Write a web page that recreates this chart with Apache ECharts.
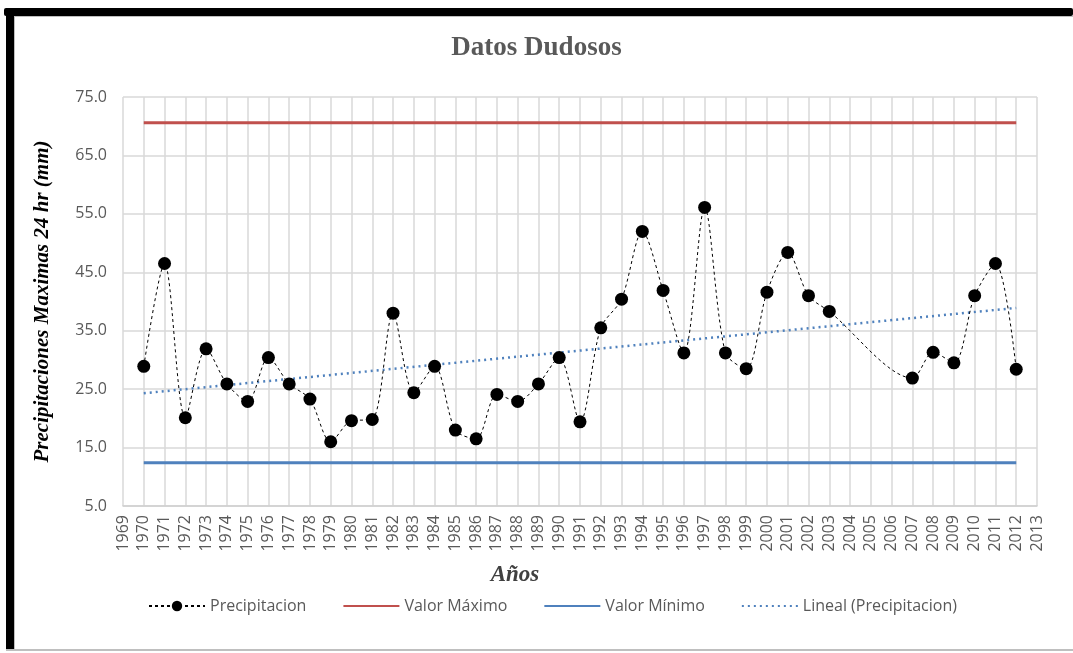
<!DOCTYPE html>
<html>
<head>
<meta charset="utf-8">
<script src="https://cdn.jsdelivr.net/npm/echarts@6/dist/echarts.min.js"></script>
<style>
  html, body { margin: 0; padding: 0; background: #fff; }
  #chart { width: 1073px; height: 653px; }
</style>
</head>
<body>
<div id="chart"></div>
<script>
// años con dato (faltan 2004-2006)
const years = [1970, 1971, 1972, 1973, 1974, 1975, 1976, 1977, 1978, 1979,
  1980, 1981, 1982, 1983, 1984, 1985, 1986, 1987, 1988, 1989,
  1990, 1991, 1992, 1993, 1994, 1995, 1996, 1997, 1998, 1999,
  2000, 2001, 2002, 2003, 2007, 2008, 2009, 2010, 2011, 2012];
const precipitacion = [28.9, 46.5, 20.1, 31.9, 25.9, 22.9, 30.4, 25.9, 23.3, 16.0,
  19.6, 19.8, 38.0, 24.4, 28.9, 18.0, 16.5, 24.1, 22.9, 25.9,
  30.4, 19.4, 35.5, 40.4, 52.0, 41.9, 31.2, 56.1, 31.2, 28.5,
  41.6, 48.4, 41.0, 38.3, 26.9, 31.3, 29.5, 41.0, 46.5, 28.4];
const limitYears = [1970, 2012];
const valorMaximo = [70.6, 70.6];
const valorMinimo = [12.4, 12.4];
const linealPrecip = [24.3, 38.9];

const xMin = 1969, xMax = 2013;
const yTicks = { min: 5, max: 75, interval: 10 };

const pairs = (xs, ys) => xs.map((x, i) => [x, ys[i]]);

const chart = echarts.init(document.getElementById("chart"));
const option = {
  backgroundColor: "#fff",
  animation: false,
  title: {
    text: "Datos Dudosos",
    left: "center",
    top: 30,
    textStyle: {
      fontFamily: "Liberation Serif",
      fontWeight: "bold",
      fontSize: 27,
      color: "#595959",
    },
  },
  grid: { left: 123, right: 36, top: 97, bottom: 147 },
  xAxis: {
    type: "value",
    min: xMin,
    max: xMax,
    interval: 1,
    name: "Años",
    nameLocation: "middle",
    nameGap: 58,
    nameTextStyle: {
      fontFamily: "Liberation Serif",
      fontWeight: "bold",
      fontStyle: "italic",
      fontSize: 23,
      color: "#404040",
      padding: [0, 130, 0, 0],
    },
    axisLine: { show: true, lineStyle: { color: "#d0d0d0", width: 1.5 } },
    axisTick: { show: false },
    axisLabel: {
      rotate: 90,
      margin: 9,
      fontFamily: "Open Sans",
      fontSize: 16,
      color: "#595959",
      formatter: (v) => String(v),
    },
    splitLine: { show: true, lineStyle: { color: "#d9d9d9", width: 1.5 } },
  },
  yAxis: {
    type: "value",
    min: yTicks.min,
    max: yTicks.max,
    interval: yTicks.interval,
    name: "Precipitaciones Maximas 24 hr (mm)",
    nameLocation: "middle",
    nameRotate: 90,
    nameGap: 70,
    nameTextStyle: {
      fontFamily: "Liberation Serif",
      fontWeight: "bold",
      fontStyle: "italic",
      fontSize: 21,
      color: "#000",
    },
    axisLine: { show: false },
    axisTick: { show: false },
    axisLabel: {
      margin: 16,
      fontFamily: "Open Sans",
      fontSize: 16,
      color: "#595959",
      formatter: (v) => v.toFixed(1),
    },
    splitLine: { show: true, lineStyle: { color: "#d9d9d9", width: 1.5 } },
  },
  legend: {
    bottom: 34,
    left: 143,
    itemWidth: 56,
    itemHeight: 13,
    itemGap: 36,
    textStyle: { fontFamily: "Open Sans", fontSize: 16, color: "#595959" },
    data: [
      { name: "Precipitacion" },
      { name: "Valor Máximo", itemStyle: { opacity: 0 } },
      { name: "Valor Mínimo", itemStyle: { opacity: 0 } },
      { name: "Lineal (Precipitacion)", itemStyle: { opacity: 0 } },
    ],
  },
  graphic: [
    { type: "rect", shape: { x: 4, y: 8, width: 1069, height: 8, r: 2 }, style: { fill: "#000" }, silent: true },
    { type: "rect", shape: { x: 6, y: 8, width: 8, height: 643 }, style: { fill: "#000" }, silent: true },
    { type: "rect", shape: { x: 14, y: 16, width: 1059, height: 1 }, style: { fill: "#bfbfbf" }, silent: true },
    { type: "rect", shape: { x: 14, y: 16, width: 1, height: 634 }, style: { fill: "#bfbfbf" }, silent: true },
    { type: "rect", shape: { x: 6, y: 649, width: 1067, height: 2 }, style: { fill: "#bfbfbf" }, silent: true },
  ],
  series: [
    {
      name: "Precipitacion",
      type: "line",
      data: pairs(years, precipitacion),
      smooth: 0.3,
      symbol: "circle",
      symbolSize: 13,
      itemStyle: { color: "#000" },
      lineStyle: { color: "#000", width: 1, type: [3, 3] },
      z: 5,
    },
    {
      name: "Valor Máximo",
      type: "line",
      data: pairs(limitYears, valorMaximo),
      symbol: "none",
      lineStyle: { color: "#c0504d", width: 3 },
      itemStyle: { color: "#c0504d" },
    },
    {
      name: "Valor Mínimo",
      type: "line",
      data: pairs(limitYears, valorMinimo),
      symbol: "none",
      lineStyle: { color: "#4f81bd", width: 3 },
      itemStyle: { color: "#4f81bd" },
    },
    {
      name: "Lineal (Precipitacion)",
      type: "line",
      data: pairs(limitYears, linealPrecip),
      symbol: "none",
      lineStyle: { color: "#4f81bd", width: 2.5, type: [2, 4] },
      itemStyle: { color: "#4f81bd" },
      z: 3,
    },
  ],
};
chart.setOption(option);
window.onresize = chart.resize;
</script>
</body>
</html>
